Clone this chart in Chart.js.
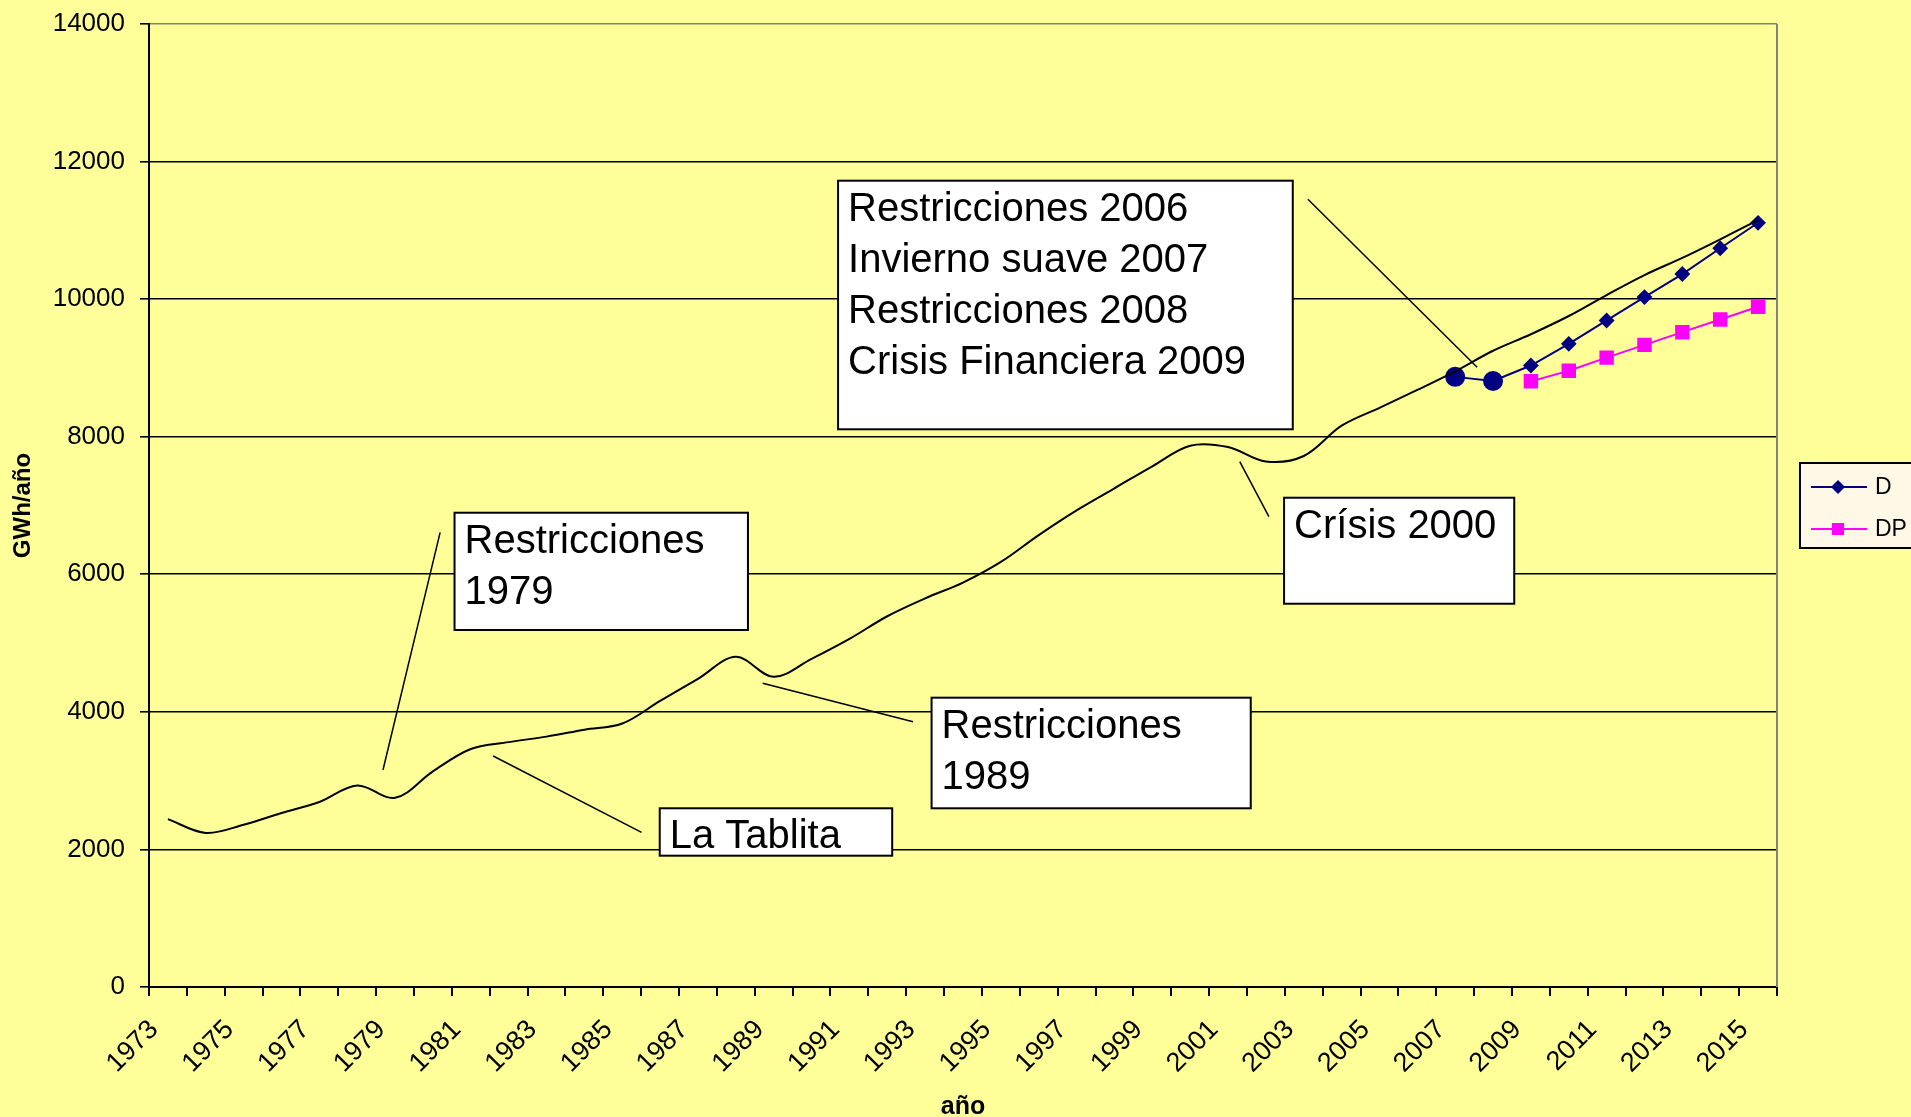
<!DOCTYPE html>
<html>
<head>
<meta charset="utf-8">
<script src="https://cdn.jsdelivr.net/npm/chart.js@4.4.0/dist/chart.umd.min.js"></script>
<style>
  html, body { margin: 0; padding: 0; background: #FFFF99; }
  #wrap { width: 1911px; height: 1117px; }
  canvas { display: block; }
</style>
</head>
<body>
<div id="wrap"><canvas id="chart" width="1911" height="1117"></canvas></div>
<script>
// demanda anual (GWh/año), curva suavizada
const years = [1973, 1974, 1975, 1976, 1977, 1978, 1979, 1980, 1981, 1982, 1983, 1984, 1985,
  1986, 1987, 1988, 1989, 1990, 1991, 1992, 1993, 1994, 1995, 1996, 1997, 1998, 1999, 2000,
  2001, 2002, 2003, 2004, 2005, 2006, 2007, 2008, 2009, 2010, 2011, 2012, 2013, 2014, 2015];
const demanda = [2440, 2240, 2360, 2530, 2690, 2930, 2750, 3135, 3460, 3560, 3640, 3740, 3830,
  4160, 4480, 4800, 4510, 4770, 5060, 5390, 5650, 5880, 6180, 6570, 6930, 7250, 7570, 7870,
  7850, 7640, 7720, 8160, 8420, 8680, 8950, 9250, 9490, 9755, 10060, 10350, 10600, 10870, 11150];

// serie D (2007-2008 reales, luego proyeccion)
const dYears = [2007, 2008, 2009, 2010, 2011, 2012, 2013, 2014, 2015];
const dValues = [8870, 8810, 9035, 9350, 9690, 10030, 10365, 10740, 11110];

// serie DP
const dpYears = [2009, 2010, 2011, 2012, 2013, 2014, 2015];
const dpValues = [8805, 8960, 9150, 9335, 9520, 9705, 9890];

const xLabels = ['1973', '1975', '1977', '1979', '1981', '1983', '1985', '1987', '1989', '1991',
  '1993', '1995', '1997', '1999', '2001', '2003', '2005', '2007', '2009', '2011', '2013', '2015'];
const yTicks = [0, 2000, 4000, 6000, 8000, 10000, 12000, 14000];

// callouts: box [x0, yTop, x1, yBottom] and leader [x0, y0, x1, y1] in axis units
const notas = [
  { lines: ['Restricciones 2006', 'Invierno suave 2007', 'Restricciones 2008', 'Crisis Financiera 2009'],
    box: [1990.70, 11722, 2002.71, 8108], leader: [2003.11, 11452, 2007.58, 9009] },
  { lines: ['Crísis 2000'], box: [2002.48, 7113, 2008.56, 5572], leader: [2001.31, 7637, 2002.08, 6837] },
  { lines: ['Restricciones', '1989'], box: [1993.17, 4206, 2001.60, 2598], leader: [1988.71, 4415, 1992.68, 3857] },
  { lines: ['Restricciones', '1979'], box: [1980.57, 6895, 1988.32, 5190], leader: [1980.19, 6610, 1978.68, 3155] },
  { lines: ['La Tablita'], box: [1985.99, 2598, 1992.13, 1909], leader: [1981.59, 3358, 1985.51, 2249] }
];

const FONT = '"Liberation Sans", Arial, sans-serif';
const toPts = (xs, ys) => xs.map((x, i) => ({ x: x, y: ys[i] }));

const extras = {
  id: 'extras',
  afterDatasetsDraw(chart) {
    const { ctx, chartArea: a, scales: { x, y } } = chart;
    ctx.save();
    // right edge of plot area
    ctx.strokeStyle = '#808080';
    ctx.lineWidth = 2;
    ctx.beginPath();
    ctx.moveTo(a.right, a.top);
    ctx.lineTo(a.right, a.bottom);
    ctx.stroke();

    // callouts
    ctx.font = '40px ' + FONT;
    ctx.textBaseline = 'alphabetic';
    ctx.textAlign = 'left';
    notas.forEach((n) => {
      ctx.strokeStyle = '#000';
      ctx.lineWidth = 1.5;
      ctx.beginPath();
      ctx.moveTo(x.getPixelForValue(n.leader[0]), y.getPixelForValue(n.leader[1]));
      ctx.lineTo(x.getPixelForValue(n.leader[2]), y.getPixelForValue(n.leader[3]));
      ctx.stroke();
      const L = x.getPixelForValue(n.box[0]);
      const T = y.getPixelForValue(n.box[1]);
      const R = x.getPixelForValue(n.box[2]);
      const B = y.getPixelForValue(n.box[3]);
      ctx.fillStyle = '#fff';
      ctx.fillRect(L, T, R - L, B - T);
      ctx.lineWidth = 2;
      ctx.strokeRect(L, T, R - L, B - T);
      ctx.fillStyle = '#000';
      n.lines.forEach((t, i) => ctx.fillText(t, L + 10, T + 40 + i * 51));
    });

    // legend
    const lx = a.right + 23, ly = 463;
    ctx.fillStyle = '#FFF8E6';
    ctx.fillRect(lx, ly, 120, 85);
    ctx.strokeStyle = '#000';
    ctx.lineWidth = 2;
    ctx.strokeRect(lx, ly, 120, 85);
    const items = chart.data.datasets.slice(1);
    items.forEach((ds, i) => {
      const cy = ly + 24 + i * 42;
      ctx.strokeStyle = ds.borderColor;
      ctx.lineWidth = 2;
      ctx.beginPath();
      ctx.moveTo(lx + 11, cy);
      ctx.lineTo(lx + 67, cy);
      ctx.stroke();
      ctx.fillStyle = ds.borderColor;
      const mx = lx + 38;
      ctx.beginPath();
      if (i === 0) {
        ctx.moveTo(mx - 7, cy); ctx.lineTo(mx, cy - 7); ctx.lineTo(mx + 7, cy); ctx.lineTo(mx, cy + 7);
        ctx.closePath();
      } else {
        ctx.rect(mx - 6, cy - 6, 12, 12);
      }
      ctx.fill();
      ctx.fillStyle = '#000';
      ctx.font = '23px ' + FONT;
      ctx.textBaseline = 'middle';
      ctx.fillText(ds.label, lx + 75, cy + 1);
    });
    ctx.restore();
  }
};

new Chart(document.getElementById('chart'), {
  type: 'line',
  data: {
    datasets: [
      {
        label: 'Demanda',
        data: toPts(years, demanda),
        borderColor: '#000',
        borderWidth: 2,
        pointRadius: 0,
        tension: 0.35
      },
      {
        label: 'D',
        data: toPts(dYears, dValues),
        borderColor: '#000080',
        backgroundColor: '#000080',
        borderWidth: 2,
        pointStyle: dYears.map((v, i) => (i < 2 ? 'circle' : 'rectRot')),
        pointRadius: dYears.map((v, i) => (i < 2 ? 9 : 6.5)),
        tension: 0
      },
      {
        label: 'DP',
        data: toPts(dpYears, dpValues),
        borderColor: '#FF00FF',
        backgroundColor: '#FF00FF',
        borderWidth: 2,
        pointStyle: 'rect',
        pointRadius: 8.8,
        tension: 0
      }
    ]
  },
  options: {
    responsive: false,
    animation: false,
    devicePixelRatio: 1,
    layout: { padding: { left: 0, top: 24, right: 134, bottom: 0 } },
    plugins: { legend: { display: false }, tooltip: { enabled: false } },
    scales: {
      x: {
        type: 'linear',
        min: 1972.5,
        max: 2015.5,
        afterBuildTicks: (s) => {
          s.ticks = years.concat([2016]).map((v) => ({ value: v - 0.5 }));
        },
        afterFit: (s) => { s.height = 130; },
        grid: { drawOnChartArea: false, drawTicks: true, tickLength: 9, color: '#000', lineWidth: 2 },
        border: { color: '#000', width: 2 },
        ticks: {
          autoSkip: false,
          minRotation: 45,
          maxRotation: 45,
          labelOffset: 5,
          padding: 18,
          color: '#000',
          font: { family: FONT, size: 27 },
          callback: (v) => {
            const lab = String(Math.round(v + 0.5));
            return xLabels.includes(lab) ? lab : '';
          }
        },
        title: {
          display: true,
          text: 'año',
          color: '#000',
          font: { family: FONT, size: 25, weight: 'bold' },
          padding: { top: 0, bottom: -5 }
        }
      },
      y: {
        min: 0,
        max: 14000,
        afterBuildTicks: (s) => { s.ticks = yTicks.map((v) => ({ value: v })); },
        afterFit: (s) => {
          s.width = 149;
          s.paddingTop = 10;
          s.paddingBottom = 10;
        },
        grid: {
          color: (c) => (c.tick && c.tick.value === 14000 ? '#808080' : '#000'),
          tickColor: '#000',
          lineWidth: 1.6,
          tickLength: 9
        },
        border: { color: '#000', width: 2 },
        ticks: {
          padding: 15,
          color: '#000',
          font: { family: FONT, size: 26 },
          callback: (v) => String(v)
        },
        title: {
          display: true,
          text: 'GWh/año',
          color: '#000',
          font: { family: FONT, size: 24, weight: 'bold' },
          padding: { top: 9, bottom: 0 }
        }
      }
    }
  },
  plugins: [extras]
});
</script>
</body>
</html>
